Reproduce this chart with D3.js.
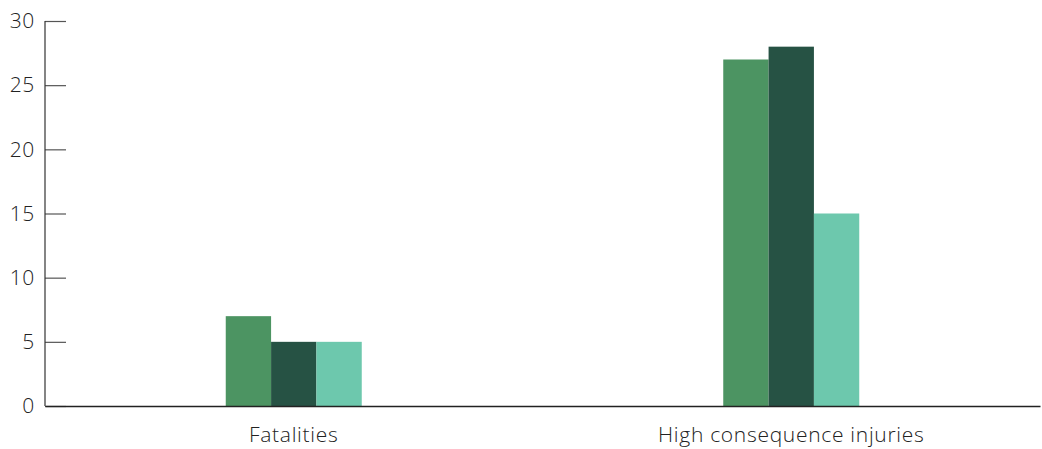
<!DOCTYPE html>
<html>
<head>
<meta charset="utf-8">
<script src="https://cdn.jsdelivr.net/npm/d3@7"></script>
<style>
  body { margin: 0; background: #fff; }
  text { font-family: "Open Sans", sans-serif; font-weight: 300; fill: #222; letter-spacing: 0.7px; }
</style>
</head>
<body>
<svg id="chart" width="1042" height="449"></svg>
<script>
var categories = ['Fatalities', 'High consequence injuries'];
var seriesNames = ['A', 'B', 'C'];
var seriesColors = ['#4c9462', '#265244', '#6dc8ad'];
var valuesA = [7, 27];
var valuesB = [5, 28];
var valuesC = [5, 15];
var yTicks = [0, 5, 10, 15, 20, 25, 30];

var series = [valuesA, valuesB, valuesC];

var svg = d3.select('#chart');
var mLeft = 45, mRight = 1040, mTop = 21, mBottom = 406;

var x = d3.scaleBand().domain(categories).range([mLeft, mRight]).padding(0);
var groupW = 136;
var xs = d3.scaleBand().domain(seriesNames).range([0, groupW]).padding(0);
var y = d3.scaleLinear().domain([0, 30]).range([mBottom, mTop]);

// y axis
var yAxis = svg.append('g')
    .attr('transform', 'translate(' + mLeft + ',0)')
    .call(d3.axisRight(y).tickValues(yTicks).tickSize(21).tickFormat(d3.format('d')));
yAxis.select('.domain').remove();
yAxis.selectAll('.tick line').attr('stroke', '#555').attr('stroke-width', 1.2);
yAxis.selectAll('.tick text')
    .attr('x', -10)
    .attr('text-anchor', 'end')
    .style('font-size', '21px');

svg.append('line')
    .attr('x1', mLeft).attr('x2', mLeft)
    .attr('y1', mTop).attr('y2', mBottom)
    .attr('stroke', '#333').attr('stroke-width', 1.2);

// bars
categories.forEach(function(c, i) {
    var g = svg.append('g')
        .attr('transform', 'translate(' + (x(c) + x.bandwidth() / 2 - groupW / 2) + ',0)');
    seriesNames.forEach(function(s, j) {
        g.append('rect')
            .attr('x', xs(s))
            .attr('y', y(series[j][i]))
            .attr('width', xs.bandwidth())
            .attr('height', y(0) - y(series[j][i]))
            .attr('fill', seriesColors[j]);
    });
});

// x axis
var xAxis = svg.append('g')
    .attr('transform', 'translate(0,' + mBottom + ')')
    .call(d3.axisBottom(x).tickSize(0).tickPadding(21));
xAxis.select('.domain').attr('stroke', '#222').attr('stroke-width', 1.5);
xAxis.selectAll('.tick text').style('font-size', '21px');
</script>
</body>
</html>
